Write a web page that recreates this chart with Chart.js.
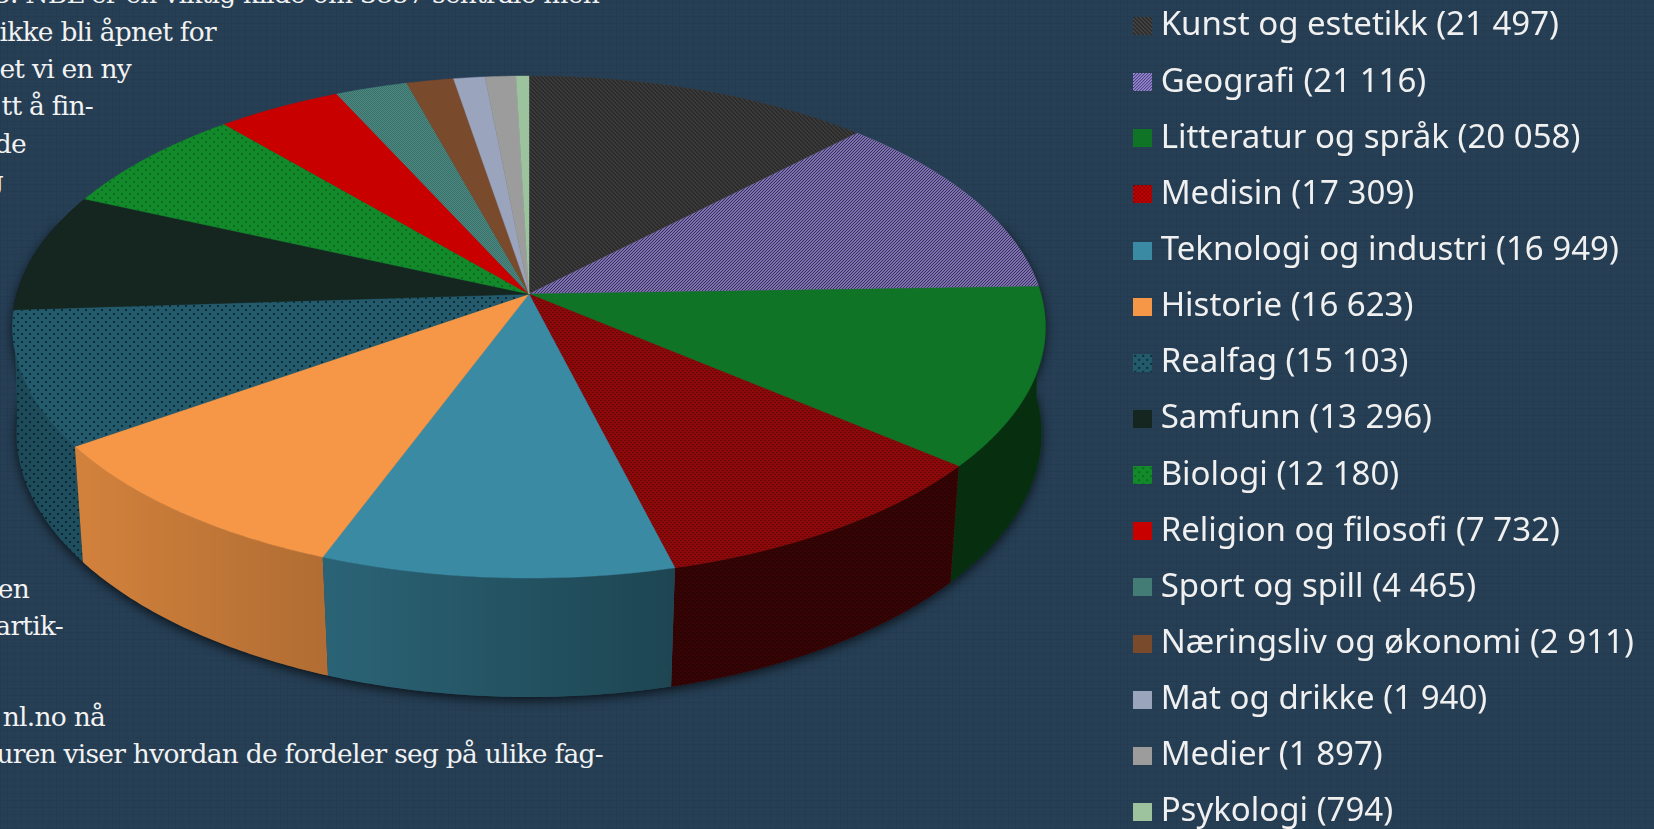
<!DOCTYPE html>
<html lang="no">
<head>
<meta charset="utf-8">
<title>Artikler per fagområde</title>
<script src="https://cdn.jsdelivr.net/npm/chart.js@4"></script>
<style>
    html, body { margin: 0; height: 100%; overflow: hidden; }
    body {
        background-color: #263f55;
        background-image:
            repeating-linear-gradient(0deg, rgba(0,0,0,0.045) 0 1px, transparent 1px 7px),
            repeating-linear-gradient(90deg, rgba(0,0,0,0.045) 0 1px, transparent 1px 7px);
    }
    .line {
        position: absolute;
        white-space: nowrap;
        color: #f2f2f2;
        font: 26.5px/37px "DejaVu Serif", serif;
        letter-spacing: -0.75px;
        transform: translateY(-50%);
    }
    #chart { position: absolute; left: 0; top: 0; }
</style>
</head>
<body>
<div class="line" style="right:1055px;top:-7px">03. NBL er en viktig kilde om 3857 sentrale men</div>
<div class="line" style="right:1438px;top:31px">ikke bli åpnet for</div>
<div class="line" style="right:1523px;top:68px">et vi en ny</div>
<div class="line" style="right:1561px;top:105px">tt å fin-</div>
<div class="line" style="right:1628px;top:143px">de</div>
<div class="line" style="right:1651px;top:180px">g</div>
<div class="line" style="right:1625px;top:588px">en</div>
<div class="line" style="right:1591px;top:625px">artik-</div>
<div class="line" style="right:1549px;top:716px">nl.no nå</div>
<div class="line" style="right:1051px;top:753px">uren viser hvordan de fordeler seg på ulike fag-</div>
<canvas id="chart" width="1654" height="900"></canvas>

<script>
const categories = ['Kunst og estetikk', 'Geografi', 'Litteratur og språk', 'Medisin', 'Teknologi og industri',
    'Historie', 'Realfag', 'Samfunn', 'Biologi', 'Religion og filosofi', 'Sport og spill',
    'Næringsliv og økonomi', 'Mat og drikke', 'Medier', 'Psykologi'];
const articleCounts = [21497, 21116, 20058, 17309, 16949, 16623, 15103, 13296, 12180, 7732, 4465, 2911, 1940, 1897, 794];

// base colour + optional second colour for the hatch
const baseColors = ['#3b3b3b', '#7f6fb4', '#0f7426', '#8e0a0a', '#3b8aa4', '#f59746', '#235a6c', '#14261f',
    '#128a2a', '#c80000', '#4a8a80', '#7a4a2c', '#9aa4bd', '#9c9c9c', '#9cc39e'];
const swatchColors = ['#444444', '#9a88e0', '#0f7426', '#c40000', '#3b8aa4', '#f59746', '#235a6c', '#14261f',
    '#128a2a', '#c80000', '#4a8a80', '#7a4a2c', '#9aa4bd', '#9c9c9c', '#9cc39e'];
const hatchKinds = ['back', 'fwd', null, 'net', null, null, 'dots', null, 'dots', null, 'fine', null, null, null, null];
const hatchColors = ['#2b2b2b', '#34324e', null, '#640606', null, null, '#0e2c38', null, '#0e6a25', null, '#3c6f6a', null, null, null, null];
// how dark the side wall gets, left end and right end of the slice
const wallShades = [[.6, .6], [.6, .6], [.6, .6], [.62, .62], [.28, .5], [.14, .28], [.18, .12], [.3, .3],
    [.3, .3], [.3, .3], [.3, .3], [.3, .3], [.3, .3], [.3, .3], [.3, .3]];

// tilted disc as seen in the picture (perspective, so the pie centre sits above the ellipse centre)
const view = { cx: 529, cy: 294, rx: 512, ry: 246.7, persp: 0.1315, wallY: 111.3, wallScaleY: 1.027 };

function projectTop(t) {
    const px = Math.sin(t), py = -Math.cos(t);
    const w = 1 - view.persp * py;
    return [view.cx + view.rx * px / w, view.cy + view.ry * py / w];
}

function projectBottom(t) {
    const px = Math.sin(t), py = -Math.cos(t);
    const w = 1 - view.persp * py;
    const shrink = 0.995 - 0.022 * py; // bottom rim is further from the eye
    return [view.cx + shrink * view.rx * px / w, view.cy + view.wallY + view.wallScaleY * view.ry * py / w];
}

function makeTile(index, base) {
    const kind = hatchKinds[index];
    const size = kind === 'dots' ? 8 : kind === 'net' ? 4 : kind === 'fine' ? 2 : kind === 'fwd' ? 3 : 4;
    const tile = document.createElement('canvas');
    tile.width = tile.height = size;
    const c = tile.getContext('2d');
    c.fillStyle = base;
    c.fillRect(0, 0, size, size);
    c.fillStyle = hatchColors[index] || base;
    if (kind === 'back') {
        for (let i = 0; i < size; i++) { c.fillRect(i, i, 1, 1); c.fillRect((i + 1) % size, i, 1, 1); }
    } else if (kind === 'fwd') {
        for (let i = 0; i < size; i++) c.fillRect(i, size - 1 - i, 1, 1);
    } else if (kind === 'net') {
        c.fillRect(0, 0, 1, 1); c.fillRect(2, 2, 1, 1); c.fillRect(1, 0, 1, 1); c.fillRect(3, 2, 1, 1);
    } else if (kind === 'dots') {
        c.fillRect(1, 1, 2, 2); c.fillRect(5, 5, 2, 2);
    } else if (kind === 'fine') {
        c.fillRect(0, 0, 1, 1); c.fillRect(1, 1, 1, 1);
    }
    return tile;
}

function legendSwatch(index) {
    const sw = document.createElement('canvas');
    sw.width = 19;
    sw.height = 18;
    const c = sw.getContext('2d');
    c.fillStyle = c.createPattern(makeTile(index, swatchColors[index]), 'repeat');
    c.fillRect(0, 0, 19, 18);
    return sw;
}

function tracePoints(ctx, t0, t1, fn, first) {
    const steps = Math.max(2, Math.ceil(Math.abs(t1 - t0) / 0.01));
    for (let i = 0; i <= steps; i++) {
        const p = fn(t0 + (t1 - t0) * i / steps);
        if (first && i === 0) ctx.moveTo(p[0], p[1]);
        else ctx.lineTo(p[0], p[1]);
    }
}

// wall swept as thin quads, so the silhouette follows the rim on the far left and right
function traceWall(ctx, t0, t1) {
    const steps = Math.max(2, Math.ceil((t1 - t0) / 0.01));
    for (let i = 0; i < steps; i++) {
        const a = t0 + (t1 - t0) * i / steps, b = t0 + (t1 - t0) * (i + 1) / steps;
        const p1 = projectTop(a), p2 = projectTop(b), p3 = projectBottom(b), p4 = projectBottom(a);
        ctx.moveTo(p1[0], p1[1]);
        ctx.lineTo(p2[0], p2[1]);
        ctx.lineTo(p3[0], p3[1]);
        ctx.lineTo(p4[0], p4[1]);
        ctx.closePath();
    }
}

const pie3d = {
    id: 'pie3d',
    beforeDatasetsDraw(chart) {
        const ctx = chart.ctx;
        const arcs = chart.getDatasetMeta(0).data;
        const fills = arcs.map((a, i) => ctx.createPattern(makeTile(i, baseColors[i]), 'repeat'));

        // drop shadow of the whole body
        ctx.save();
        ctx.shadowColor = 'rgba(0,0,0,0.7)';
        ctx.shadowBlur = 11;
        ctx.shadowOffsetY = 3;
        ctx.fillStyle = '#102030';
        ctx.beginPath();
        traceWall(ctx, Math.PI * 0.4, Math.PI * 1.6);
        ctx.fill();
        ctx.restore();

        // side walls, back ones first so the front ones cover them
        const order = arcs.map((a, i) => i).sort((p, q) => {
            const mid = k => Math.cos((arcs[k].startAngle + arcs[k].endAngle) / 2 + Math.PI / 2);
            return mid(q) - mid(p);
        });
        order.forEach(i => {
            const arc = arcs[i];
            const t0 = arc.startAngle + Math.PI / 2, t1 = arc.endAngle + Math.PI / 2;
            if (Math.cos((t0 + t1) / 2) > 0.35) return; // back of the pie, hidden
            const a = projectTop(t0), b = projectTop(t1);
            ctx.beginPath();
            traceWall(ctx, t0, t1);
            ctx.fillStyle = fills[i];
            ctx.fill();
            const left = Math.min(a[0], b[0]), right = Math.max(a[0], b[0]);
            const shade = ctx.createLinearGradient(left, 0, right, 0);
            const [sl, sr] = wallShades[i];
            shade.addColorStop(0, `rgba(0,0,0,${sl})`);
            shade.addColorStop(1, `rgba(0,0,0,${sr})`);
            ctx.fillStyle = shade;
            ctx.fill();
        });

        // top face, slice by slice, from the angles Chart.js worked out
        arcs.forEach((arc, i) => {
            const t0 = arc.startAngle + Math.PI / 2, t1 = arc.endAngle + Math.PI / 2;
            ctx.beginPath();
            ctx.moveTo(view.cx, view.cy);
            tracePoints(ctx, t0, t1, projectTop, false);
            ctx.closePath();
            ctx.fillStyle = fills[i];
            ctx.strokeStyle = baseColors[i];
            ctx.lineWidth = 0.4;
            ctx.fill();
            ctx.stroke();
        });
        return false; // the flat arcs are not wanted
    },
    afterLayout(chart) {
        // legend sits in its own column, running off the bottom of the window
        const legend = chart.legend;
        legend.left = 1118;
        legend.right = 1654;
        legend.top = -13.7;
        legend.bottom = 900;
    }
};

new Chart(document.getElementById('chart'), {
    type: 'pie',
    data: {
        labels: categories,
        datasets: [{ data: articleCounts, backgroundColor: baseColors, borderWidth: 0 }]
    },
    options: {
        responsive: false,
        animation: false,
        plugins: {
            tooltip: { enabled: false },
            legend: {
                position: 'right',
                align: 'start',
                labels: {
                    usePointStyle: true,
                    pointStyleWidth: 3,
                    padding: 23.15,
                    color: '#f0f0f0',
                    font: { family: '"Noto Sans"', size: 33 },
                    generateLabels(chart) {
                        return categories.map((name, i) => ({
                            text: name + ' (' + String(articleCounts[i]).replace(/\B(?=(\d{3})+$)/g, ' ') + ')',
                            pointStyle: legendSwatch(i),
                            fontColor: '#f0f0f0',
                            lineWidth: 0,
                            index: i
                        }));
                    }
                }
            }
        }
    },
    plugins: [pie3d]
});
</script>
</body>
</html>
